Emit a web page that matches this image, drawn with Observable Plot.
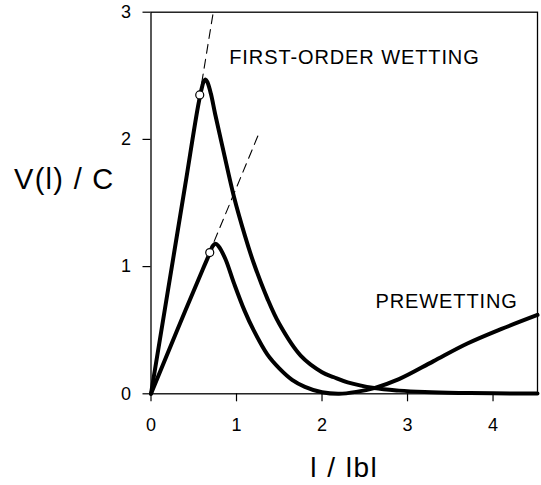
<!DOCTYPE html>
<html>
<head>
<meta charset="utf-8">
<script src="https://cdn.jsdelivr.net/npm/d3@7"></script>
<script src="https://cdn.jsdelivr.net/npm/@observablehq/plot@0.6"></script>
<style>
  html, body { margin: 0; padding: 0; background: #fff; }
  #chart svg { display: block; }
</style>
</head>
<body>
<div id="chart"></div>
<script>
// First-order wetting curve (upper)
const wetX = [0, 0.2, 0.4, 0.55, 0.6, 0.62, 0.64, 0.66, 0.7, 0.75, 0.85, 0.97, 1.1, 1.2, 1.36, 1.5, 1.75, 2.0, 2.14, 2.3, 2.61, 2.9, 3.2, 3.6, 4.0, 4.52];
const wetY = [0, 0.82, 1.64, 2.26, 2.42, 2.46, 2.47, 2.45, 2.36, 2.2, 1.9, 1.55, 1.24, 1.03, 0.75, 0.55, 0.3, 0.17, 0.13, 0.09, 0.045, 0.025, 0.014, 0.007, 0.004, 0.002];
// Prewetting curve (lower)
const preX = [0, 0.3, 0.6, 0.69, 0.72, 0.755, 0.79, 0.87, 0.97, 1.09, 1.2, 1.36, 1.5, 1.65, 1.8, 2.0, 2.2, 2.4, 2.61, 2.9, 3.3, 3.7, 4.1, 4.52];
const preY = [0, 0.49, 0.97, 1.11, 1.16, 1.18, 1.16, 1.06, 0.87, 0.66, 0.5, 0.31, 0.2, 0.11, 0.055, 0.012, 0.0, 0.015, 0.045, 0.115, 0.255, 0.395, 0.51, 0.62];
// Tangent (dashed) lines through the origin
const tanX = [[0, 0.728], [0, 1.27]];
const tanY = [[0, 3.0], [0, 2.06]];
// Marked points (open circles)
const dotX = [0.57, 0.687];
const dotY = [2.35, 1.11];
// Annotations
const labelText = ["FIRST-ORDER WETTING", "PREWETTING"];
const labelX = [0.915, 2.625];
const labelY = [2.594, 0.678];
const xTicks = [0, 1, 2, 3, 4];
const yTicks = [0, 1, 2, 3];

const wet = wetX.map((x, i) => ({x, y: wetY[i]}));
const pre = preX.map((x, i) => ({x, y: preY[i]}));
const tangents = tanX.flatMap((xs, k) => xs.map((x, i) => ({k, x, y: tanY[k][i]})));
const dots = dotX.map((x, i) => ({x, y: dotY[i]}));
const labels = labelText.map((t, i) => ({t, x: labelX[i], y: labelY[i]}));

const font = "'Liberation Sans', Arial, Helvetica, sans-serif";

const chart = Plot.plot({
  width: 541,
  height: 485,
  marginLeft: 150.5,
  marginRight: 4,
  marginTop: 11.7,
  marginBottom: 91.7,
  style: {fontFamily: font, fontSize: "18px", color: "#000", background: "#fff", overflow: "visible"},
  x: {domain: [0, 4.52], label: null},
  y: {domain: [0, 3], label: null},
  marks: [
    Plot.line(tangents, {x: "x", y: "y", z: "k", stroke: "#000", strokeWidth: 1.1, strokeDasharray: "9,6"}),
    Plot.line(wet, {x: "x", y: "y", curve: "catmull-rom", stroke: "#000", strokeWidth: 4, strokeLinejoin: "round"}),
    Plot.line(pre, {x: "x", y: "y", curve: "catmull-rom", stroke: "#000", strokeWidth: 4, strokeLinejoin: "round"}),
    Plot.dot(dots, {x: "x", y: "y", r: 4, fill: "#fff", stroke: "#000", strokeWidth: 1.2}),
    Plot.frame({stroke: "#000", strokeWidth: 1.3}),
    Plot.axisX({ticks: xTicks, tickFormat: "d", tickSize: 8, tickPadding: 16, fontSize: 18, label: null, strokeWidth: 1.2}),
    Plot.axisY({ticks: yTicks, tickFormat: "d", tickSize: 8, tickPadding: 12, fontSize: 18, label: null, strokeWidth: 1.2}),
    Plot.text(labels, {x: "x", y: "y", text: "t", textAnchor: "start", lineAnchor: "bottom", fontSize: 20, fill: "#000"}),
    Plot.text(["V(l) / C"], {frameAnchor: "top-left", dx: -137, dy: 177, textAnchor: "start", lineAnchor: "bottom", fontSize: 29, fill: "#000"}),
    Plot.text(["l / lbl"], {frameAnchor: "bottom", dy: 83, textAnchor: "middle", lineAnchor: "bottom", fontSize: 28, fill: "#000"})
  ]
});
chart.querySelectorAll("text").forEach(t => {
  const s = t.textContent;
  if (s === "V(l) / C") t.style.letterSpacing = "1.3px";
  if (s === "l / lbl") t.style.letterSpacing = "1.5px";
  if (s === "FIRST-ORDER WETTING" || s === "PREWETTING") t.style.letterSpacing = "0.9px";
});
document.getElementById("chart").appendChild(chart);
</script>
</body>
</html>
